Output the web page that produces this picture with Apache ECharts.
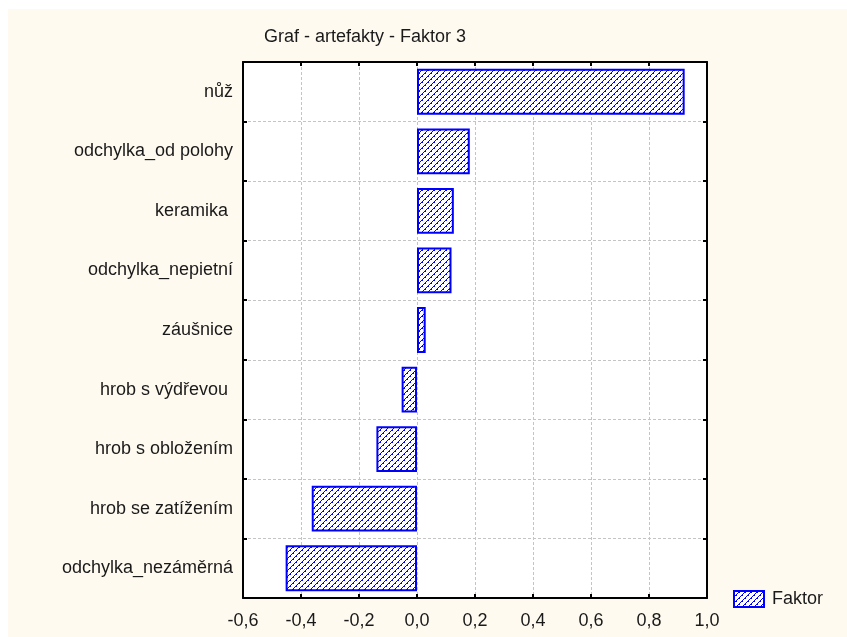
<!DOCTYPE html>
<html>
<head>
<meta charset="utf-8">
<script src="https://cdn.jsdelivr.net/npm/echarts@6/dist/echarts.min.js"></script>
<style>
html,body{margin:0;padding:0;background:#ffffff;}
#frame{position:absolute;left:8px;top:9px;width:839px;height:628px;background:#fefaf0;}
#chart{position:absolute;left:0;top:0;width:847px;height:637px;}
</style>
</head>
<body>
<div id="frame"></div>
<div id="chart"></div>
<script>
const titleText = 'Graf - artefakty - Faktor 3';
const seriesName = 'Faktor';
const categories = ['nůž', 'odchylka_od polohy', 'keramika ', 'odchylka_nepietní', 'záušnice', 'hrob s výdřevou ', 'hrob s obložením', 'hrob se zatížením', 'odchylka_nezáměrná'];
const values = [0.923, 0.182, 0.127, 0.119, 0.030, -0.053, -0.140, -0.363, -0.453];
const xMin = -0.6, xMax = 1.0, xStep = 0.2;

function makePattern() {
  const c = document.createElement('canvas');
  c.width = 6; c.height = 6;
  const ctx = c.getContext('2d');
  ctx.fillStyle = '#ffffff';
  ctx.fillRect(0, 0, 6, 6);
  ctx.fillStyle = '#0000ff';
  for (let i = 0; i < 6; i++) ctx.fillRect(5 - i, i, 1, 1);
  ctx.fillRect(5, 1, 1, 1);
  ctx.fillRect(2, 4, 1, 1);
  return c;
}
const pat = makePattern();
const fmt = v => (Math.round(v * 10) / 10).toFixed(1).replace('.', ',');
const font = '"Liberation Sans", Arial, sans-serif';

const chart = echarts.init(document.getElementById('chart'), null, {renderer: 'canvas'});
const gridLine = {show: true, lineStyle: {color: '#c4c4c4', type: [3, 2], width: 1}};
chart.setOption({
  backgroundColor: 'transparent',
  animation: false,
  title: {text: titleText, left: 259, top: 23, textStyle: {fontFamily: font, fontSize: 18, fontWeight: 'normal', color: '#1a1a1a'}},
  legend: {
    left: 733, top: 590, padding: 0, itemWidth: 30, itemHeight: 16,
    textStyle: {fontFamily: font, fontSize: 18, color: '#1a1a1a', padding: [0, 0, 0, 3]},
    data: [{name: seriesName, icon: 'rect', itemStyle: {color: {image: pat, repeat: 'repeat'}, borderColor: '#0000ff', borderWidth: 2}}]
  },
  grid: {left: 243, right: 140, top: 62, bottom: 39, show: true, backgroundColor: '#ffffff', borderWidth: 0},
  xAxis: [{
    type: 'value', min: xMin, max: xMax, interval: xStep, position: 'bottom',
    axisLine: {show: true, onZero: false, lineStyle: {color: '#000', width: 2}},
    axisTick: {show: true, inside: true, length: 4, lineStyle: {color: '#000', width: 2}},
    axisLabel: {margin: 14, fontFamily: font, fontSize: 18, color: '#1a1a1a', formatter: fmt, showMinLabel: true, showMaxLabel: true},
    splitLine: gridLine
  }, {
    type: 'value', min: xMin, max: xMax, interval: xStep, position: 'top',
    axisLine: {show: true, onZero: false, lineStyle: {color: '#000', width: 2}},
    axisTick: {show: true, inside: true, length: 4, lineStyle: {color: '#000', width: 2}},
    axisLabel: {show: false}, splitLine: {show: false}
  }],
  yAxis: [{
    type: 'category', data: categories, inverse: true, position: 'left',
    axisLine: {show: true, onZero: false, lineStyle: {color: '#000', width: 2}},
    axisTick: {show: true, inside: true, length: 4, lineStyle: {color: '#000', width: 2}},
    axisLabel: {margin: 10, fontFamily: font, fontSize: 18, color: '#1a1a1a'},
    splitLine: gridLine
  }, {
    type: 'category', data: categories, inverse: true, position: 'right',
    axisLine: {show: true, onZero: false, lineStyle: {color: '#000', width: 2}},
    axisTick: {show: true, inside: true, length: 4, lineStyle: {color: '#000', width: 2}},
    axisLabel: {show: false}, splitLine: {show: false}
  }],
  series: [{
    name: seriesName, type: 'bar', data: values, xAxisIndex: 0, yAxisIndex: 0,
    barCategoryGap: '23%',
    itemStyle: {color: {image: pat, repeat: 'repeat'}, borderColor: '#0000ff', borderWidth: 2}
  }]
});
</script>
</body>
</html>
